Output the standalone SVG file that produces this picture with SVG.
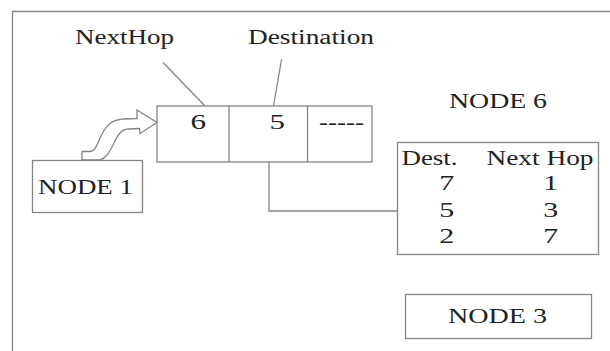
<svg xmlns="http://www.w3.org/2000/svg" width="610" height="351" viewBox="0 0 610 351">
<style>
.ln{fill:none;stroke:#858585;stroke-width:1.3}
.bx{fill:#fff;stroke:#858585;stroke-width:1.3}
.t{font-family:"Liberation Serif","Times New Roman",serif;font-size:20.5px;fill:#222}
.c{text-anchor:middle}
</style>
<rect width="610" height="351" fill="#fff"/>
<path class="ln" d="M610,11.5 H12.5 V351"/>
<g id="labels">
<text class="t" x="75" y="43.5" textLength="99" lengthAdjust="spacingAndGlyphs">NextHop</text>
<text class="t" x="248" y="44" textLength="126" lengthAdjust="spacingAndGlyphs">Destination</text>
</g>
<g id="connectors">
<path class="ln" d="M163,62.5 L205,106"/>
<path class="ln" d="M281.5,59.5 L273.5,106"/>
<path class="ln" d="M269,162 V211 H397"/>
<path class="bx" d="M82,160 V151.5 H90 C96,151 98,142 102,134 C107,124 113,119.5 124,119 L137,118.5 L137,110 L157,122.5 L140,133.5 L139.5,128.5 L128,129 C120,129.5 117,137 113,145 C109,153 106,158 100,160 Z"/>
</g>
<g id="node1">
<rect class="bx" x="32.5" y="160.5" width="110" height="52"/>
<text class="t" x="38" y="194.3" textLength="95" lengthAdjust="spacingAndGlyphs">NODE 1</text>
</g>
<g id="packet">
<rect class="bx" x="157" y="106" width="215" height="56"/>
<path class="ln" d="M229,106 V162 M307.5,106 V162"/>
<text class="t" x="190.5" y="129" textLength="15.5" lengthAdjust="spacingAndGlyphs">6</text>
<text class="t" x="269.5" y="129" textLength="15.5" lengthAdjust="spacingAndGlyphs">5</text>
<text class="t" x="319" y="128.5" textLength="45" lengthAdjust="spacingAndGlyphs">-----</text>
</g>
<g id="node6">
<text class="t" x="449" y="108" textLength="98" lengthAdjust="spacingAndGlyphs">NODE 6</text>
<rect class="bx" x="397.5" y="142.5" width="201" height="112"/>
<text class="t" x="401.5" y="165" textLength="56" lengthAdjust="spacingAndGlyphs">Dest.</text>
<text class="t" x="486.5" y="165" textLength="107" lengthAdjust="spacingAndGlyphs">Next Hop</text>
<text class="t c" x="446.7" y="190" textLength="15" lengthAdjust="spacingAndGlyphs">7</text>
<text class="t c" x="550.7" y="190" textLength="15" lengthAdjust="spacingAndGlyphs">1</text>
<text class="t c" x="446.7" y="216.7" textLength="15" lengthAdjust="spacingAndGlyphs">5</text>
<text class="t c" x="550.7" y="216.7" textLength="15" lengthAdjust="spacingAndGlyphs">3</text>
<text class="t c" x="446.7" y="243.3" textLength="15" lengthAdjust="spacingAndGlyphs">2</text>
<text class="t c" x="550.7" y="243.3" textLength="15" lengthAdjust="spacingAndGlyphs">7</text>
</g>
<g id="node3">
<rect class="bx" x="405.5" y="294.5" width="186" height="44"/>
<text class="t" x="448" y="323.3" textLength="99" lengthAdjust="spacingAndGlyphs">NODE 3</text>
</g>
</svg>
